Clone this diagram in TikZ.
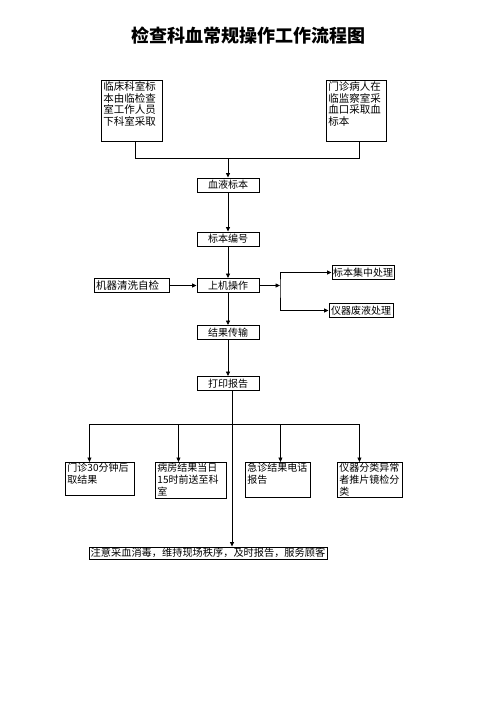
\documentclass[tikz,border=0pt]{standalone}
\usepackage{fontspec}
\setmainfont{Noto Sans CJK SC}
\usetikzlibrary{arrows.meta}
\newcommand\tlbox[5]{\parbox[t][#2][t]{#1}{\fontsize{#3}{#4}\selectfont #5}}
\begin{document}
\begin{tikzpicture}[x=1pt,y=-1pt,
  >={Triangle[length=4.5pt,width=4pt]},
  bx/.style={draw,line width=0.9pt,inner xsep=2pt,inner ysep=1.5pt,anchor=north west},
  cbox/.style={draw,line width=0.9pt,minimum width=62pt,minimum height=14pt,inner sep=0pt,font=\fontsize{10}{12}\selectfont},
  ln/.style={line width=0.8pt}]
\useasboundingbox (0,0) rectangle (496,702);

\node (title) at (248,36) {\fontsize{18}{20}\selectfont\bfseries 检查科血常规操作工作流程图};

\node[bx] (b1) at (101,80) {\tlbox{57pt}{58pt}{10.5}{11.5}{临床科室标\\本由临检查\\室工作人员\\下科室采取}};
\node[bx] (b2) at (326,80) {\tlbox{56pt}{58pt}{10.5}{11.5}{门诊病人在\\临监察室采\\血口采取血\\标本}};

\node[cbox] (s1) at (228,185) {血液标本};
\node[cbox] (s2) at (228,239) {标本编号};
\node[cbox] (s3) at (228,285.5) {上机操作};
\node[cbox] (s4) at (228,332.5) {结果传输};
\node[cbox] (s5) at (228,383.5) {打印报告};

\node[cbox,minimum width=75pt,inner xsep=2pt,text width=71pt,align=left,font=\fontsize{10.5}{12}\selectfont] (wash) at (131.5,285.5) {机器清洗自检};
\node[cbox,minimum width=62pt] (r1) at (363,272.5) {标本集中处理};
\node[cbox,minimum width=64pt] (r2) at (361,310.5) {仪器废液处理};

\node[bx,inner ysep=1pt] (c1) at (65,462) {\tlbox{65pt}{31pt}{10}{11.8}{门诊30分钟后\\取结果}};
\node[bx,inner ysep=1pt] (c2) at (155,462) {\tlbox{67pt}{34pt}{10}{11.8}{病房结果当日\\15时前送至科\\室}};
\node[bx,inner ysep=1pt] (c3) at (245,462) {\tlbox{61pt}{33pt}{10}{11.8}{急诊结果电话\\报告}};
\node[bx,inner ysep=1pt] (c4) at (337,462) {\tlbox{61pt}{33pt}{10}{11.8}{仪器分类异常\\者推片镜检分\\类}};

\node[cbox,minimum width=238pt,minimum height=12pt,font=\fontsize{10.2}{12}\selectfont] (note) at (208,553) {注意采血消毒，维持现场秩序，及时报告，服务顾客};

% top merge
\coordinate (m) at (228,158);
\draw[ln] ([xshift=3.5pt]b1.south) |- (m);
\draw[ln] ([xshift=3pt]b2.south) |- (m);
\draw[ln,->] (m) -- (s1.north);

% main chain
\draw[ln,->] (s1.south) -- (s2.north);
\draw[ln,->] (s2.south) -- (s3.north);
\draw[ln,->] (s3.south) -- (s4.north);
\draw[ln,->] (s4.south) -- (s5.north);
\draw[ln,->] (wash.east) -- (s3.west);

% right branch
\coordinate (j) at (280,285.5);
\draw[ln,->] (s3.east) -- (j);
\draw[ln,<->] (r1.west) -| (j) |- (r2.west);

% bottom branches
\coordinate (p) at ([xshift=4pt]s5.south);
\draw[ln,->] (p) -- (p |- note.north);
\coordinate (h) at (232,424);
\draw[ln,->] (h) -| ([xshift=-10.5pt]c1.north);
\draw[ln,->] (h) -| ([xshift=-12.5pt]c2.north);
\draw[ln,->] (h) -| ([xshift=2.5pt]c3.north);
\draw[ln,->] (h) -| ([xshift=-10.5pt]c4.north);
\end{tikzpicture}
\end{document}
